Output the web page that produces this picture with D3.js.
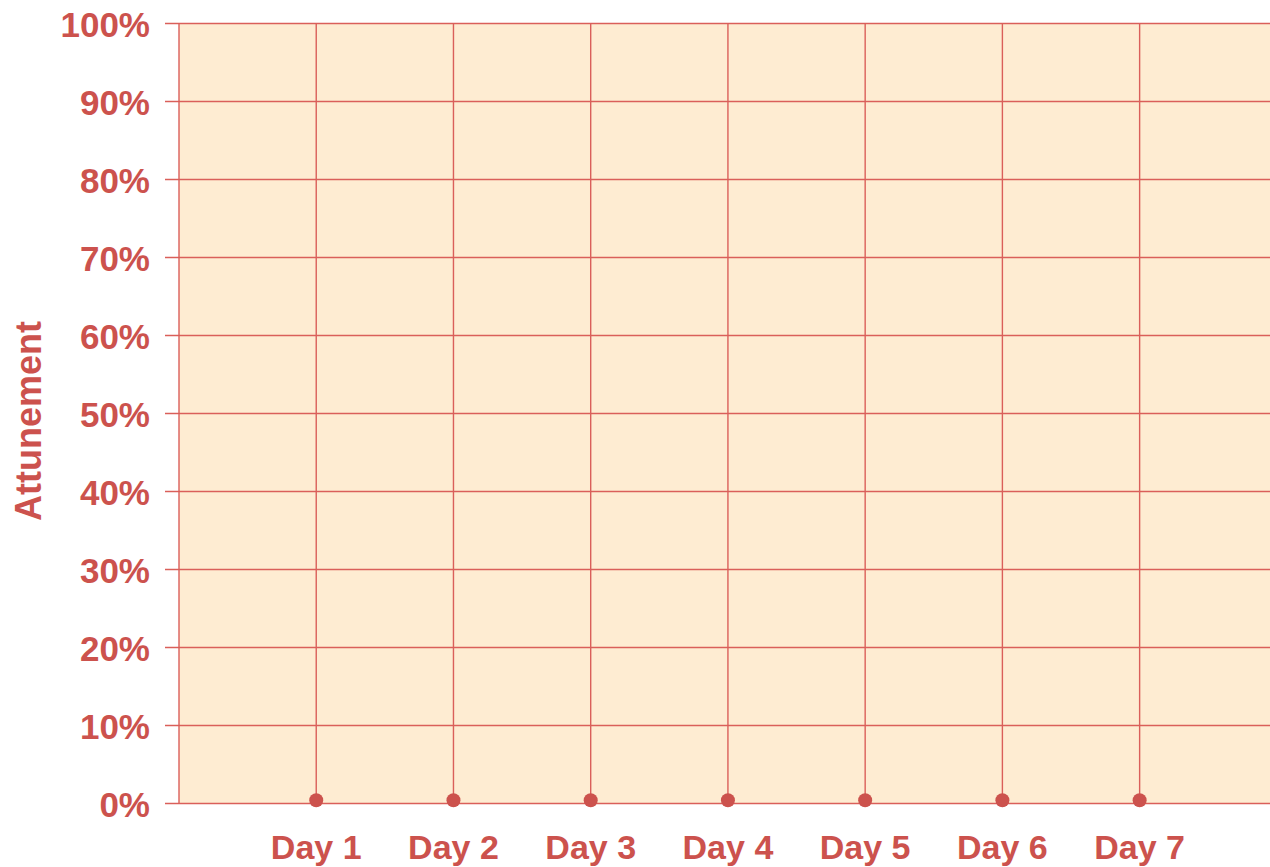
<!DOCTYPE html>
<html>
<head>
<meta charset="utf-8">
<script src="https://cdn.jsdelivr.net/npm/d3@7"></script>
<style>
  body { margin: 0; background: #fff; }
  svg text { font-family: "Liberation Sans", Arial, sans-serif; font-weight: bold; fill: #cc524d; }
</style>
</head>
<body>
<div id="chart"></div>
<script>
'use strict';

const days = ['Day 1', 'Day 2', 'Day 3', 'Day 4', 'Day 5', 'Day 6', 'Day 7'];
const attunement = [0.35, 0.35, 0.35, 0.35, 0.35, 0.35, 0.35];
const yTicks = [0, 10, 20, 30, 40, 50, 60, 70, 80, 90, 100];

const width = 1270;
const height = 867;
const margin = { top: 23, right: 0, bottom: 64, left: 179 };
const red = '#cc524d';
const gridColor = '#da5f5a';

const svg = d3.select('#chart').append('svg')
  .attr('width', width)
  .attr('height', height);

// day index 0 is the left edge, days sit at 1..7
const xScale = d3.scaleLinear()
  .domain([0, 7.95])
  .range([margin.left, width - margin.right]);

const yScale = d3.scaleLinear()
  .domain([0, 100])
  .range([height - margin.bottom, margin.top]);

svg.append('rect')
  .attr('x', margin.left)
  .attr('y', margin.top)
  .attr('width', width - margin.right - margin.left)
  .attr('height', yScale(0) - margin.top)
  .style('fill', '#feecd2');

// horizontal grid + y labels
const yAxis = d3.axisLeft(yScale)
  .tickValues(yTicks)
  .tickSize(-(width - margin.left - margin.right))
  .tickPadding(29)
  .tickFormat(d => d + '%');

const yAxisElement = svg.append('g')
  .attr('transform', 'translate(' + margin.left + ',0)')
  .call(yAxis);

yAxisElement.select('.domain').remove();
yAxisElement.selectAll('.tick line')
  .attr('x1', -14)
  .attr('stroke', gridColor)
  .attr('stroke-width', 1.4);
yAxisElement.selectAll('.tick text')
  .attr('font-size', 35)
  .attr('dy', '0.38em');

// vertical grid: left edge + one per day
const vLines = [0].concat(days.map((d, i) => i + 1));
svg.append('g').selectAll('line')
  .data(vLines)
  .enter().append('line')
  .attr('x1', d => xScale(d))
  .attr('x2', d => xScale(d))
  .attr('y1', yScale(100))
  .attr('y2', yScale(0))
  .attr('stroke', gridColor)
  .attr('stroke-width', 1.4);

// x labels
svg.append('g').selectAll('text')
  .data(days)
  .enter().append('text')
  .attr('x', (d, i) => xScale(i + 1))
  .attr('y', 859)
  .attr('text-anchor', 'middle')
  .attr('font-size', 34)
  .text(d => d);

// points
svg.append('g').selectAll('circle')
  .data(attunement)
  .enter().append('circle')
  .attr('cx', (d, i) => xScale(i + 1))
  .attr('cy', d => yScale(d))
  .attr('r', 7)
  .style('fill', red);

// y title
svg.append('text')
  .attr('transform', 'translate(41,421) rotate(-90)')
  .attr('text-anchor', 'middle')
  .attr('font-size', 36)
  .text('Attunement');
</script>
</body>
</html>
